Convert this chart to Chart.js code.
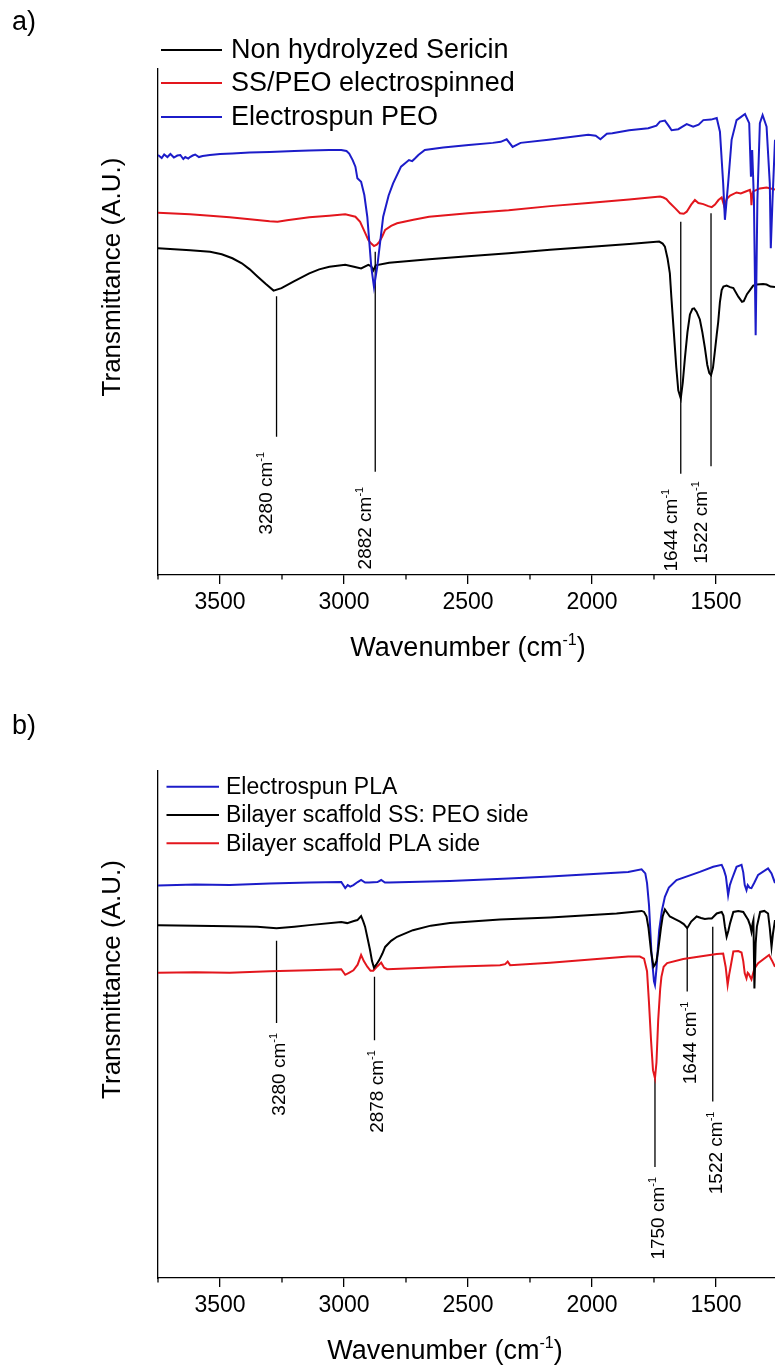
<!DOCTYPE html>
<html>
<head>
<meta charset="utf-8">
<title>FTIR spectra</title>
<script src="https://cdn.jsdelivr.net/npm/chart.js@4.4.1/dist/chart.umd.min.js"></script>
<style>
  html, body { margin: 0; padding: 0; background: #fff; }
  body { width: 775px; height: 1369px; overflow: hidden; position: relative; }
  canvas { position: absolute; left: 0; display: block; }
  #chartA { top: 0; }
  #chartB { top: 684px; }
</style>
</head>
<body>
<canvas id="chartA" width="775" height="684"></canvas>
<canvas id="chartB" width="775" height="685"></canvas>
<script>
const FONT = '"Liberation Sans", Arial, Helvetica, sans-serif';

// x axis, shared by both panels (wavenumber, cm-1, reversed)
const xTicks = [3500, 3000, 2500, 2000, 1500];
const xMinor = [3750, 3250, 2750, 2250, 1750, 1250];
const xRange = [1262, 3750];

// ---- panel a: [wavenumber, transmittance A.U.] ----
const sericin = [[3750,64.6],[3620,64.2],[3540,63.9],[3493,63.4],[3450,62.6],[3412,61.6],[3380,60.4],[3349,59.0],[3315,57.5],[3284,56.2],[3252,56.7],[3204,58.0],[3140,59.6],[3100,60.4],[3059,60.9],[2995,61.3],[2960,60.9],[2931,60.6],[2902,61.3],[2890,61.0],[2882,60.2],[2872,61.2],[2818,61.7],[2657,62.4],[2500,63.0],[2336,63.6],[2169,64.3],[2015,64.8],[1850,65.4],[1729,65.9],[1715,65.5],[1706,64.9],[1695,62.5],[1686,59.6],[1680,55.0],[1670,48.0],[1660,41.0],[1652,36.5],[1642,34.9],[1634,38.0],[1625,43.0],[1615,48.0],[1605,51.5],[1595,52.6],[1588,52.7],[1578,52.0],[1565,50.5],[1555,48.0],[1545,45.0],[1535,41.5],[1527,39.9],[1520,39.5],[1512,41.0],[1505,44.0],[1497,47.5],[1491,50.0],[1484,54.0],[1477,56.3],[1470,57.0],[1457,57.2],[1443,56.9],[1430,56.7],[1410,55.0],[1395,54.0],[1388,54.1],[1375,55.5],[1363,56.3],[1350,57.2],[1335,57.4],[1310,57.5],[1296,57.4],[1280,57.0],[1262,56.9]];
const ssPeo = [[3750,71.6],[3621,71.3],[3540,71.0],[3461,70.7],[3380,70.3],[3300,69.9],[3268,69.8],[3230,70.1],[3140,70.7],[3060,71.0],[2995,71.3],[2954,70.8],[2935,69.8],[2923,68.5],[2912,67.3],[2902,66.2],[2890,65.5],[2879,65.0],[2868,65.3],[2858,65.8],[2845,67.0],[2834,68.2],[2810,69.0],[2786,69.5],[2720,70.2],[2657,70.8],[2500,71.5],[2336,72.1],[2169,72.9],[2015,73.5],[1850,74.2],[1725,74.8],[1712,74.6],[1700,74.3],[1686,73.5],[1665,72.5],[1645,71.5],[1630,71.4],[1618,71.8],[1600,73.2],[1585,74.1],[1571,73.5],[1551,73.3],[1531,72.9],[1517,72.7],[1504,73.2],[1490,74.1],[1477,74.6],[1466,72.8],[1457,74.3],[1443,75.0],[1417,75.6],[1400,75.4],[1380,75.8],[1363,76.1],[1359,75.2],[1357,73.1],[1354,75.0],[1350,75.8],[1323,76.4],[1296,76.6],[1262,76.2]];
const peo = [[3750,83.0],[3735,82.4],[3725,83.1],[3712,82.6],[3700,83.2],[3686,82.5],[3672,82.9],[3660,83.0],[3648,82.2],[3640,82.6],[3628,82.3],[3621,82.6],[3610,82.9],[3600,83.1],[3585,82.6],[3570,82.8],[3555,82.9],[3541,83.0],[3520,83.1],[3500,83.2],[3450,83.3],[3381,83.5],[3300,83.6],[3200,83.8],[3140,83.9],[3060,84.0],[3011,84.0],[2990,83.8],[2979,83.3],[2965,82.0],[2954,80.7],[2946,78.4],[2931,77.7],[2918,75.1],[2906,70.8],[2890,60.9],[2879,56.9],[2866,60.9],[2842,70.8],[2820,75.0],[2802,77.4],[2770,80.7],[2738,82.0],[2725,81.8],[2714,82.3],[2700,83.0],[2674,84.0],[2600,84.5],[2497,85.0],[2400,85.4],[2368,85.6],[2344,86.1],[2320,84.6],[2288,85.4],[2175,86.0],[2015,87.0],[1985,86.8],[1966,86.1],[1940,87.2],[1918,87.3],[1850,87.9],[1773,88.3],[1740,88.8],[1726,89.6],[1706,89.8],[1690,88.7],[1679,87.9],[1652,88.1],[1635,88.6],[1618,89.1],[1592,88.6],[1570,89.0],[1551,89.9],[1520,90.0],[1497,90.3],[1484,87.6],[1471,77.4],[1464,70.2],[1451,77.4],[1437,86.0],[1417,89.9],[1400,90.5],[1383,91.1],[1366,89.3],[1359,78.7],[1354,84.0],[1347,74.1],[1340,47.4],[1333,74.1],[1323,89.3],[1312,90.9],[1296,88.6],[1283,77.4],[1279,64.6],[1272,74.1],[1262,86.0]];
const seriesA = ['Non hydrolyzed Sericin', 'SS/PEO electrospinned', 'Electrospun PEO'];

// panel a marked bands: position, line top / bottom (A.U.), label
const bandAWn = [3272, 2874, 1642, 1520];
const bandATop = [55.1, 63.9, 69.8, 71.5];
const bandABottom = [27.3, 20.4, 20.0, 21.5];
const bandALabel = ['3280', '2882', '1644', '1522'];

// ---- panel b ----
const pla = [[3750,77.4],[3600,77.6],[3461,77.5],[3300,77.8],[3140,78.0],[3011,78.1],[2995,76.9],[2985,77.5],[2975,77.2],[2962,77.5],[2945,78.1],[2931,78.5],[2915,78.0],[2899,78.0],[2865,78.1],[2850,78.5],[2835,78.0],[2818,78.0],[2573,78.3],[2336,78.8],[2169,79.2],[1854,80.1],[1800,80.6],[1785,79.8],[1778,77.9],[1770,73.5],[1760,64.0],[1750,58.5],[1746,57.8],[1740,61.0],[1733,66.0],[1729,68.6],[1718,72.5],[1706,75.2],[1690,77.0],[1659,78.5],[1565,80.1],[1511,81.1],[1477,81.5],[1468,80.5],[1460,79.2],[1451,75.5],[1444,77.5],[1437,78.5],[1417,81.1],[1397,81.5],[1390,80.0],[1384,77.5],[1377,76.5],[1372,77.5],[1365,77.0],[1357,76.9],[1345,78.0],[1330,79.5],[1290,80.8],[1276,79.8],[1262,77.9]];
const bilayerPeo = [[3750,69.6],[3600,69.5],[3461,69.4],[3350,69.3],[3272,69.0],[3200,69.3],[3140,69.6],[3011,70.2],[2987,70.0],[2960,70.4],[2946,70.6],[2931,71.4],[2922,70.3],[2915,69.3],[2905,67.0],[2895,64.7],[2887,62.5],[2879,61.2],[2870,61.8],[2858,62.7],[2845,64.0],[2834,65.3],[2810,66.5],[2786,67.3],[2722,68.6],[2650,69.5],[2573,70.0],[2371,70.7],[2169,71.1],[1901,71.9],[1800,72.4],[1790,72.2],[1780,71.3],[1772,69.0],[1762,64.5],[1752,61.4],[1746,61.8],[1740,62.5],[1733,64.7],[1722,69.0],[1715,71.3],[1706,72.7],[1696,72.0],[1686,71.3],[1665,70.8],[1645,70.3],[1630,69.8],[1616,69.0],[1600,70.3],[1578,71.3],[1560,71.0],[1545,70.8],[1530,70.9],[1517,70.9],[1497,71.9],[1477,72.2],[1470,71.5],[1464,69.3],[1457,67.3],[1450,68.5],[1443,70.0],[1430,72.2],[1410,72.4],[1390,72.2],[1370,70.6],[1362,69.5],[1357,68.3],[1352,70.0],[1349,70.6],[1345,57.1],[1340,66.0],[1335,69.3],[1322,72.2],[1305,72.4],[1290,71.9],[1283,69.0],[1276,65.3],[1270,68.0],[1262,70.6]];
const bilayerPla = [[3750,60.2],[3600,60.3],[3461,60.2],[3300,60.5],[3140,60.7],[3011,60.9],[2995,59.8],[2980,60.2],[2962,60.7],[2945,61.8],[2931,63.7],[2920,62.5],[2906,61.4],[2893,60.6],[2882,60.6],[2865,61.5],[2850,62.2],[2838,61.2],[2826,60.9],[2573,61.4],[2371,61.7],[2350,61.9],[2340,62.4],[2330,61.7],[2169,62.2],[1854,63.4],[1807,63.4],[1790,63.0],[1778,60.5],[1770,54.2],[1762,47.0],[1754,41.0],[1746,39.4],[1740,42.5],[1733,50.9],[1725,57.0],[1720,59.4],[1711,61.4],[1697,62.1],[1632,62.9],[1565,63.4],[1497,63.9],[1471,64.0],[1461,61.4],[1453,57.8],[1447,59.8],[1441,61.4],[1430,64.4],[1410,64.5],[1397,64.2],[1390,62.5],[1384,60.1],[1377,59.1],[1372,60.2],[1368,60.0],[1357,58.9],[1345,61.0],[1330,62.1],[1286,63.7],[1272,62.4],[1262,61.4]];
const seriesB = ['Electrospun PLA', 'Bilayer scaffold SS: PEO side', 'Bilayer scaffold PLA side'];

const bandBWn = [3272, 2877, 1746, 1616, 1513];
const bandBTop = [66.5, 59.4, 39.4, 69.3, 69.3];
const bandBBottom = [50.3, 46.9, 21.9, 56.5, 34.8];
const bandBLabel = ['3280', '2878', '1750', '1644', '1522'];

const BLACK = '#000000', RED = '#e3161d', BLUE = '#1c1cc9';

// draws "main" + raised small "sup" + "tail" on the current baseline
function drawSup(ctx, main, sup, tail, size, x, y, align) {
  const supSize = Math.round(size * 0.6);
  ctx.font = size + 'px ' + FONT;
  const w1 = ctx.measureText(main).width;
  const w3 = ctx.measureText(tail).width;
  ctx.font = supSize + 'px ' + FONT;
  const w2 = ctx.measureText(sup).width;
  const total = w1 + w2 + w3;
  let start = x;
  if (align === 'center') start = x - total / 2;
  if (align === 'right') start = x - total;
  ctx.textAlign = 'left';
  ctx.textBaseline = 'alphabetic';
  ctx.font = size + 'px ' + FONT;
  ctx.fillText(main, start, y);
  ctx.font = supSize + 'px ' + FONT;
  ctx.fillText(sup, start + w1, y - size * 0.42);
  ctx.font = size + 'px ' + FONT;
  ctx.fillText(tail, start + w1 + w2, y);
}

// minor ticks, titles, legend and band labels
const decor = {
  id: 'decor',
  afterDraw(chart, args, o) {
    const { ctx, chartArea: area, scales: { x, y } } = chart;
    ctx.save();
    ctx.fillStyle = '#000';
    ctx.strokeStyle = '#000';
    ctx.lineWidth = 1.3;
    xMinor.forEach(v => {
      const px = x.getPixelForValue(v);
      if (px < area.left - 1 || px > area.right + 1) return;
      ctx.beginPath();
      ctx.moveTo(px, area.bottom);
      ctx.lineTo(px, area.bottom + 4.5);
      ctx.stroke();
    });

    // panel letter
    ctx.font = '27px ' + FONT;
    ctx.textAlign = 'left';
    ctx.textBaseline = 'alphabetic';
    ctx.fillText(o.letter, 12, o.letterY);

    // x title
    drawSup(ctx, 'Wavenumber (cm', '-1', ')', 27, o.xTitleX, area.bottom + 81, 'center');

    // y title
    ctx.save();
    ctx.translate(113, (area.top + area.bottom) / 2 + o.yTitleShift);
    ctx.rotate(-Math.PI / 2);
    ctx.font = '26px ' + FONT;
    ctx.textAlign = 'center';
    ctx.textBaseline = 'middle';
    ctx.fillText('Transmittance (A.U.)', 0, 0);
    ctx.restore();

    // legend
    const items = chart.data.datasets.filter(d => d.legend);
    items.forEach((d, i) => {
      const ry = area.top + o.legend.rows[i];
      ctx.strokeStyle = d.borderColor;
      ctx.lineWidth = 2;
      ctx.beginPath();
      ctx.moveTo(area.left + o.legend.x0, ry);
      ctx.lineTo(area.left + o.legend.x1, ry);
      ctx.stroke();
      ctx.font = o.legend.size + 'px ' + FONT;
      ctx.textAlign = 'left';
      ctx.textBaseline = 'middle';
      ctx.fillStyle = '#000';
      ctx.fillText(d.label, area.left + o.legend.tx, ry + 1);
    });

    // band labels, rotated, below each marker line
    o.bands.wn.forEach((wn, i) => {
      const px = x.getPixelForValue(wn) + o.bandDx;
      const py = y.getPixelForValue(o.bands.bottom[i]) + o.bandGap;
      ctx.save();
      ctx.translate(px, py);
      ctx.rotate(-Math.PI / 2);
      ctx.fillStyle = '#000';
      drawSup(ctx, o.bands.label[i] + ' cm', '-1', '', 19, 0, 19 * 0.36, 'right');
      ctx.restore();
    });
    ctx.restore();
  }
};

function toPoints(arr) {
  return arr.map(p => ({ x: p[0], y: p[1] }));
}

function makeChart(id, series, bands, o) {
  const datasets = series.map(s => ({
    label: s.label,
    legend: true,
    data: toPoints(s.data),
    borderColor: s.color,
    borderWidth: 2,
    pointRadius: 0,
    tension: 0,
    order: s.order
  }));
  bands.wn.forEach((wn, i) => {
    datasets.push({
      label: bands.label[i],
      legend: false,
      data: [{ x: wn, y: bands.top[i] }, { x: wn, y: bands.bottom[i] }],
      borderColor: BLACK,
      borderWidth: 1.3,
      pointRadius: 0,
      order: 10
    });
  });

  const canvas = document.getElementById(id);
  return new Chart(canvas.getContext('2d'), {
    type: 'line',
    data: { datasets },
    options: {
      responsive: false,
      animation: false,
      events: [],
      layout: { padding: { top: o.padTop, left: 0, right: 0, bottom: 0 } },
      plugins: { legend: { display: false }, tooltip: { enabled: false }, decor: Object.assign({ bands }, o) },
      scales: {
        x: {
          type: 'linear',
          reverse: true,
          min: xRange[0],
          max: xRange[1],
          afterBuildTicks: s => { s.ticks = xTicks.map(v => ({ value: v })); },
          afterFit: s => { s.height = o.xHeight; },
          grid: { display: true, drawOnChartArea: false, drawTicks: true, tickLength: 9, color: BLACK, lineWidth: 1.3 },
          border: { display: true, color: BLACK, width: 1.3 },
          ticks: {
            color: BLACK, padding: 5, maxRotation: 0, autoSkip: false,
            font: { family: FONT, size: 23 },
            callback: v => String(v)
          },
          title: { display: false }
        },
        y: {
          type: 'linear',
          min: 0,
          max: 100,
          afterFit: s => { s.width = 158; },
          grid: { display: false },
          border: { display: true, color: BLACK, width: 1.3 },
          ticks: { display: false },
          title: { display: false }
        }
      }
    },
    plugins: [decor]
  });
}

makeChart('chartA', [
  { label: seriesA[0], data: sericin, color: BLACK, order: 2 },
  { label: seriesA[1], data: ssPeo, color: RED, order: 1 },
  { label: seriesA[2], data: peo, color: BLUE, order: 0 }
], { wn: bandAWn, top: bandATop, bottom: bandABottom, label: bandALabel }, {
  padTop: 69, xHeight: 109, letter: 'a)', letterY: 30, xTitleX: 468, yTitleShift: -45,
  bandGap: 15, bandDx: -11,
  legend: { x0: 3, x1: 64, tx: 73, rows: [-19, 14, 48], size: 27 }
});

makeChart('chartB', [
  { label: seriesB[0], data: pla, color: BLUE, order: 1 },
  { label: seriesB[1], data: bilayerPeo, color: BLACK, order: 0 },
  { label: seriesB[2], data: bilayerPla, color: RED, order: 2 }
], { wn: bandBWn, top: bandBTop, bottom: bandBBottom, label: bandBLabel }, {
  padTop: 87, xHeight: 91, letter: 'b)', letterY: 50, xTitleX: 445, yTitleShift: -45,
  bandGap: 10, bandDx: 2,
  legend: { x0: 8.5, x1: 61, tx: 68, rows: [15.7, 44, 72.3], size: 23 }
});
</script>
</body>
</html>
